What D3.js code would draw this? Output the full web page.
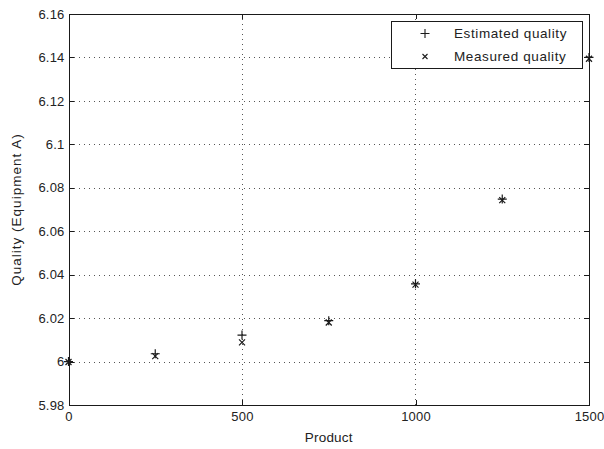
<!DOCTYPE html>
<html>
<head>
<meta charset="utf-8">
<script src="https://cdn.jsdelivr.net/npm/d3@7/dist/d3.min.js"></script>
<style>
  html, body { margin: 0; padding: 0; background: #fff; }
  svg { display: block; font-family: "Liberation Sans", Arial, sans-serif; }
  .lbl { font-size: 13.5px; letter-spacing: 0.6px; fill: #222; }
  .tk { font-size: 13px; letter-spacing: 0.2px; fill: #222; }
</style>
</head>
<body>
<svg id="chart" width="604" height="449"></svg>
<script>
// Products sampled along the production run
const products = [0, 250, 500, 750, 1000, 1250, 1500];
// Quality readings for Equipment A
const estimatedQuality = [6.0000, 6.0036, 6.0122, 6.0188, 6.0358, 6.0748, 6.1400];
const measuredQuality  = [5.9998, 6.0025, 6.0088, 6.0180, 6.0354, 6.0743, 6.1394];
// Axis ticks
const xTicks = [0, 500, 1000, 1500];
const yTicks = [5.98, 6.00, 6.02, 6.04, 6.06, 6.08, 6.10, 6.12, 6.14, 6.16];
const yTickLabels = ["5.98", "6", "6.02", "6.04", "6.06", "6.08", "6.1", "6.12", "6.14", "6.16"];
const legendLabels = ["Estimated quality", "Measured quality"];

const svg = d3.select("#chart");
const L = 68.5, R = 589, T = 14, B = 405;

const x = d3.scaleLinear().domain([0, 1500]).range([L, R]);
const y = d3.scaleLinear().domain([5.98, 6.16]).range([B, T]);

const ink = "#1a1a1a";

// Dotted grid
const grid = svg.append("g").attr("stroke", "#555").attr("stroke-width", 1)
  .attr("stroke-dasharray", "1,4").attr("shape-rendering", "crispEdges");
grid.selectAll("line.gx").data(xTicks.slice(1, -1)).join("line")
  .attr("x1", d => Math.round(x(d)) + 0.5).attr("x2", d => Math.round(x(d)) + 0.5)
  .attr("y1", T).attr("y2", B);
grid.selectAll("line.gy").data(yTicks.slice(1, -1)).join("line")
  .attr("y1", d => Math.round(y(d)) + 0.5).attr("y2", d => Math.round(y(d)) + 0.5)
  .attr("x1", L).attr("x2", R);

// Axes with inward ticks on all four sides
function styleAxis(g) {
  g.select(".domain").remove();
  g.selectAll(".tick line").attr("stroke", ink).attr("shape-rendering", "crispEdges");
  g.selectAll(".tick text").attr("class", "tk").attr("fill", null)
    .attr("font-size", null).attr("font-family", null);
}
svg.append("g").attr("transform", `translate(0,${B})`)
  .call(d3.axisBottom(x).tickValues(xTicks).tickFormat(d3.format("d")).tickSize(-5).tickPadding(7))
  .call(styleAxis);
svg.append("g").attr("transform", `translate(0,${T})`)
  .call(d3.axisTop(x).tickValues(xTicks).tickSize(-5).tickFormat(""))
  .call(styleAxis);
svg.append("g").attr("transform", `translate(${L},0)`)
  .call(d3.axisLeft(y).tickValues(yTicks).tickFormat((d, i) => yTickLabels[i]).tickSize(-5).tickPadding(4))
  .call(styleAxis);
svg.append("g").attr("transform", `translate(${R},0)`)
  .call(d3.axisRight(y).tickValues(yTicks).tickSize(-5).tickFormat(""))
  .call(styleAxis);

// Axes box
svg.append("rect").attr("x", Math.round(L) + 0.5).attr("y", T + 0.5)
  .attr("width", Math.round(R) - Math.round(L)).attr("height", B - T)
  .attr("fill", "none").attr("stroke", ink).attr("stroke-width", 1)
  .attr("shape-rendering", "crispEdges");

// Marker shapes
const plusPath = s => `M${-s},0H${s}M0,${-s}V${s}`;
const crossPath = s => `M${-s},${-s}L${s},${s}M${-s},${s}L${s},${-s}`;

const marks = svg.append("g").attr("fill", "none").attr("stroke", ink).attr("stroke-width", 1.2);
marks.selectAll("path.est").data(products).join("path")
  .attr("class", "est")
  .attr("transform", (d, i) => `translate(${x(d)},${y(estimatedQuality[i])})`)
  .attr("d", plusPath(4.5));
marks.selectAll("path.meas").data(products).join("path")
  .attr("class", "meas")
  .attr("transform", (d, i) => `translate(${x(d)},${y(measuredQuality[i])})`)
  .attr("d", crossPath(3));

// Axis titles
svg.append("text").attr("class", "lbl").attr("x", (L + R) / 2).attr("y", 442)
  .attr("text-anchor", "middle").style("letter-spacing", "0.2px")
  .text("Product");
svg.append("text").attr("class", "lbl").attr("transform", `translate(21,${(T + B) / 2}) rotate(-90)`)
  .attr("text-anchor", "middle").style("letter-spacing", "1px")
  .text("Quality (Equipment A)");

// Legend
const lg = svg.append("g");
lg.append("rect").attr("x", 391.5).attr("y", 21.5).attr("width", 191).attr("height", 47)
  .attr("fill", "#fff").attr("stroke", ink).attr("stroke-width", 1)
  .attr("shape-rendering", "crispEdges");
const rows = [
  { label: legendLabels[0], d: plusPath(4.5), cy: 33.5 },
  { label: legendLabels[1], d: crossPath(2.5), cy: 56.5 }
];
rows.forEach(r => {
  lg.append("path").attr("transform", `translate(425,${r.cy})`).attr("d", r.d)
    .attr("fill", "none").attr("stroke", ink).attr("stroke-width", 1.1);
  lg.append("text").attr("class", "lbl").attr("x", 454).attr("y", r.cy).attr("dy", "0.35em")
    .text(r.label);
});
</script>
</body>
</html>
